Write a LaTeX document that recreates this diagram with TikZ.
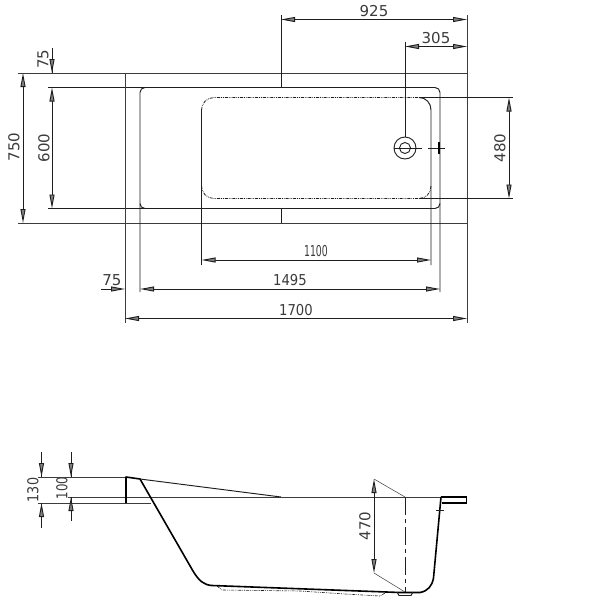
\documentclass[tikz,border=0pt]{standalone}
\usepackage{fontspec}
\usepackage{graphicx}
\setmainfont{DejaVu Sans}
\usetikzlibrary{arrows.meta}
\definecolor{ink}{HTML}{1E1E1E}
\definecolor{dimgrey}{HTML}{3C3C3C}
\tikzset{
  ln/.style={draw=ink,line width=0.95pt},
  ext/.style={draw=dimgrey,line width=0.9pt},
  thin line/.style={draw=dimgrey,line width=0.5pt},
  thick outline/.style={draw=black,line width=1.6pt,line join=round},
  tub/.style={draw=ink,line width=0.8pt,densely dash dot dot},
  dimboth/.style={draw=ink,line width=0.9pt,{Triangle[length=14pt,width=5pt,fill=gray]}-{Triangle[length=14pt,width=5pt,fill=gray]}},
  dimone/.style={draw=ink,line width=0.9pt,-{Triangle[length=14pt,width=5pt,fill=gray]}},
  lab/.style={font=\fontsize{15}{15}\selectfont,text=dimgrey,inner sep=0pt},
  labv/.style={lab,rotate=90},
}
\begin{document}
\begin{tikzpicture}[x=1pt,y=-1pt]
\useasboundingbox (0,0) rectangle (600,600);
\fill[white] (0,0) rectangle (600,600);
% --- plan view ---
\draw[ext] (18,73) -- (467,73);
\draw[ext] (18,223) -- (467,223);
% rim
\draw[ln] (48,87.5) -- (435,87.5) .. controls (437.8,87.5) and (440,89.7) .. (440,92.5) -- (440,292);
\draw[ln] (48,208.5) -- (435,208.5) .. controls (437.8,208.5) and (440,206.3) .. (440,203.5);
\draw[ln] (140,292) -- (140,92.5) .. controls (140,89.7) and (142.2,87.5) .. (145,87.5);
\draw[ln] (140,203.5) .. controls (140,206.3) and (142.2,208.5) .. (145,208.5);
\draw[ext] (125,73) -- (125,323);
\draw[ext] (467,15) -- (467,323);
% tub inner
\draw[ln] (201.5,265) -- (201.5,110);
\draw[tub] (201.5,110) .. controls (201.5,103) and (207,97.5) .. (214,97.5) -- (419,97.5);
\draw[ln] (419,97.5) -- (513,97.5);
\draw[ln] (431,265) -- (431,110) .. controls (431,103) and (426,97.5) .. (419,97.5);
\draw[tub] (201.5,186) .. controls (201.5,193) and (207,198.5) .. (214,198.5) -- (419,198.5);
\draw[ln] (419,198.5) -- (513,198.5);
\draw[tub] (431,186) .. controls (431,193) and (426,198.5) .. (419,198.5);
\draw[ln] (281,15) -- (281,87.5);
\draw[ln] (281,208.5) -- (281,223);
\draw[ln] (405,42) -- (405,137);
% drain
\node[circle,draw=ink,line width=0.9pt,minimum size=22pt,inner sep=0pt] (drainO) at (405,148) {};
\node[circle,draw=ink,line width=0.9pt,minimum size=11pt,inner sep=0pt] (drainI) at (405,148) {};
\draw[ln] (drainO.west) -- (drainO.east);
\draw[ln] (416,148) -- (422,148);
\draw[ln] (428,148) -- (445,148);
\draw[draw=black,line width=1.3pt] (439,142) -- (439,154);
% plan dimensions
\draw[dimboth] (281,19.5) -- (467,19.5);
\node[lab] (t925) at (374,11) {925};
\draw[dimboth] (405,46.5) -- (467,46.5);
\node[lab] (t305) at (436,38) {305};
\draw[dimboth] (509,97.5) -- (509,198.5);
\node[labv] (t480) at (500,148) {480};
\draw[dimboth] (23,73) -- (23,223);
\node[labv] (t750) at (14,147) {750};
\draw[dimboth] (52,87.5) -- (52,208.5);
\node[labv] (t600) at (44,148) {600};
\draw[ln] (52,48) -- (52,73);
\draw[dimone] (52,55) -- (52,73);
\node[labv] (t75a) at (43,59) {75};
\draw[dimboth] (201.5,260) -- (431,260);
\node[lab,xscale=0.62] (t1100) at (316,251.5) {1100};
\draw[dimboth] (140,289) -- (440,289);
\node[lab] (t1495) at (290,280) {\scalebox{0.88}[1]{1495}};
\draw[dimone] (101,289) -- (125,289);
\node[lab] (t75b) at (112,280) {75};
\draw[dimboth] (125,318.5) -- (467,318.5);
\node[lab] (t1700) at (296,310) {\scalebox{0.88}[1]{1700}};
% --- section view ---
\draw[ext] (38,477) -- (126,477);
\draw[ext] (38,503) -- (151,503);
\draw[ext] (68,497) -- (441,497);
\draw[ln] (140,479) -- (281,497);
\draw[thick outline] (126,503) -- (126,477) -- (140,479) -- (193,571)
  .. controls (199,581) and (204,585) .. (212,585.5) -- (400,592.5) -- (420,592.5)
  .. controls (428,591) and (432,586) .. (433.5,578) -- (441,497);
\draw[draw=black,line width=1.1pt] (441,497) -- (466.5,497) -- (466.5,503) -- (442,503);
\draw[ln] (436,510) -- (444,510);
\draw[ln] (397,592) -- (399,595.5) -- (411,595.5) -- (413,592);
\draw[tub,line width=0.6pt] (217,586) -- (222,590) -- (300,591) -- (345,594) -- (380,596) -- (385,593);
\draw[ln,dash pattern=on 18pt off 4pt on 4pt off 4pt] (405,497) -- (405,592);
\draw[thin line] (374,479) -- (405,497);
\draw[thin line] (374,573) -- (405,592);
\draw[dimboth] (374,479) -- (374,573);
\node[labv] (t470) at (365,526) {470};
\draw[ln] (41.5,452) -- (41.5,477);
\draw[dimone] (41.5,462) -- (41.5,477);
\draw[ln] (41.5,503) -- (41.5,528);
\draw[dimone] (41.5,518) -- (41.5,503);
\node[labv] (t130) at (33,490) {\scalebox{0.85}[1]{130}};
\draw[ln] (71,452) -- (71,477);
\draw[dimone] (71,462) -- (71,477);
\draw[ln] (71,497) -- (71,521);
\draw[dimone] (71,511) -- (71,497);
\node[labv] (t100) at (62,488) {\scalebox{0.78}[1]{100}};
\end{tikzpicture}
\end{document}
